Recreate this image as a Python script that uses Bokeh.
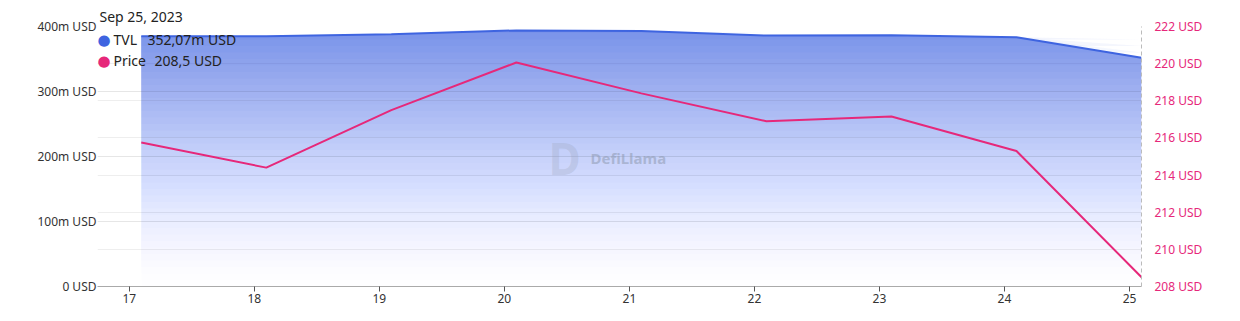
import datetime as dt
from bokeh.plotting import figure
from bokeh.models import (Range1d, LinearAxis, FixedTicker, DaysTicker, DatetimeTickFormatter,
                          Grid, Label, ColumnDataSource, Title)
from bokeh.embed import file_html
from bokeh.resources import INLINE

# ---- data ----
dates = [dt.datetime(2023, 9, d, 2, 18) for d in range(17, 26)]
tvl_musd = [385, 385, 388, 394, 393, 386, 386.5, 383.5, 352.07]
price_usd = [215.75, 214.4, 217.5, 220.06, 218.4, 216.9, 217.15, 215.3, 208.5]
left_ticks = [0, 100, 200, 300, 400]
left_labels = ["0 USD", "100m USD", "200m USD", "300m USD", "400m USD"]
right_ticks = [208, 210, 212, 214, 216, 218, 220, 222]
right_labels = [f"{t} USD" for t in right_ticks]
tooltip_date = "Sep 25, 2023"
tooltip_tvl = "352,07m USD"
tooltip_price = "208,5 USD"

TVL_COLOR = "#3e64e0"
PRICE_COLOR = "#e6287a"
FONT = "Noto Sans"

x_start = dates[0] - dt.timedelta(hours=8.4)
x_end = dates[-1]

p = figure(width=1240, height=321, output_backend="svg", toolbar_location=None,
           x_range=Range1d(x_start, x_end), y_range=Range1d(0, 400),
           min_border_left=97, min_border_right=99, min_border_top=26, min_border_bottom=35,
           x_axis_type="datetime", title=None)
p.outline_line_color = None
p.background_fill_color = "white"
p.border_fill_color = "white"
p.extra_y_ranges = {"price": Range1d(208, 222)}

t = Title(text=tooltip_date, align="left", offset=2, text_font=FONT, text_font_size="14px",
          text_font_style="normal", text_color="#222222", standoff=2)
p.add_layout(t, "above")

# gradient area (stacked translucent layers)
N = 40
top_op = 0.70
src = ColumnDataSource(dict(x=dates, tvl=tvl_musd))
prev = 0.0
for k in range(1, N + 1):
    lo = 400.0 * (k - 1) / N
    target = top_op * (k / N) ** 1.35
    a = 1 - (1 - target) / (1 - prev)
    prev = target
    ys = [max(v, lo) for v in tvl_musd]
    p.varea(x=dates, y1=[lo] * len(dates), y2=ys, fill_color="#4a6fe6", fill_alpha=a)

p.line("x", "tvl", source=src, line_color=TVL_COLOR, line_width=2)
p.line(x=dates, y=price_usd, y_range_name="price", line_color=PRICE_COLOR, line_width=2)

# axes
xa = p.xaxis[0]
xa.ticker = DaysTicker(days=list(range(1, 32)))
xa.formatter = DatetimeTickFormatter(days="%d", months="%d", hours="%d")
xa.axis_line_color = "#aaaaaa"
xa.major_tick_line_color = "#555555"
xa.major_tick_out = 5
xa.major_tick_in = 0
xa.minor_tick_line_color = None
xa.major_label_standoff = 2
xa.major_label_text_font = FONT
xa.major_label_text_font_size = "12px"
xa.major_label_text_color = "#333333"

ya = p.yaxis[0]
ya.ticker = FixedTicker(ticks=left_ticks)
ya.major_label_overrides = {t: l for t, l in zip(left_ticks, left_labels)}
ya.axis_line_color = None
ya.major_tick_line_color = None
ya.minor_tick_line_color = None
ya.major_tick_out = 0
ya.major_label_standoff = 1
ya.major_label_text_font = FONT
ya.major_label_text_font_size = "12px"
ya.major_label_text_color = "#333333"

ra = LinearAxis(y_range_name="price", ticker=FixedTicker(ticks=right_ticks))
ra.major_label_overrides = {t: l for t, l in zip(right_ticks, right_labels)}
ra.axis_line_color = "#bbbbbb"
ra.axis_line_dash = "4 3"
ra.major_tick_line_color = None
ra.minor_tick_line_color = None
ra.major_tick_out = 0
ra.major_label_standoff = 13
ra.major_label_text_font = FONT
ra.major_label_text_font_size = "12px"
ra.major_label_text_color = PRICE_COLOR
p.add_layout(ra, "right")

p.xgrid.grid_line_color = None
p.ygrid.grid_line_color = "#e6e6e6"
p.ygrid.grid_line_width = 1
rg = Grid(dimension=1, ticker=ra.ticker, y_range_name="price",
          grid_line_color="#eeeeee", grid_line_width=1)
p.add_layout(rg)

# watermark
p.add_layout(Label(x=451, y=129, x_units="screen", y_units="screen", text="D",
                   text_font=FONT, text_font_style="bold", text_font_size="44px",
                   text_color="#9aa4bb", text_alpha=0.3, text_baseline="middle"))
p.add_layout(Label(x=493, y=129, x_units="screen", y_units="screen", text="DefiLlama",
                   text_font=FONT, text_font_style="bold", text_font_size="15px",
                   text_color="#8e99b0", text_alpha=0.55, text_baseline="middle"))

# tooltip overlay
def lab(x, y, t, size="14px", color="#222222", font=FONT):
    p.add_layout(Label(x=x, y=y, x_units="screen", y_units="screen", text=t,
                       text_font=font, text_font_size=size, text_color=color,
                       text_baseline="middle"))

lab(0, 247, "●", "15px", TVL_COLOR, "DejaVu Sans")
lab(16, 247, "TVL")
lab(50, 247, tooltip_tvl)
lab(0, 226, "●", "15px", PRICE_COLOR, "DejaVu Sans")
lab(16, 226, "Price")
lab(57, 226, tooltip_price)

open("out.html", "w").write(file_html(p, INLINE))
